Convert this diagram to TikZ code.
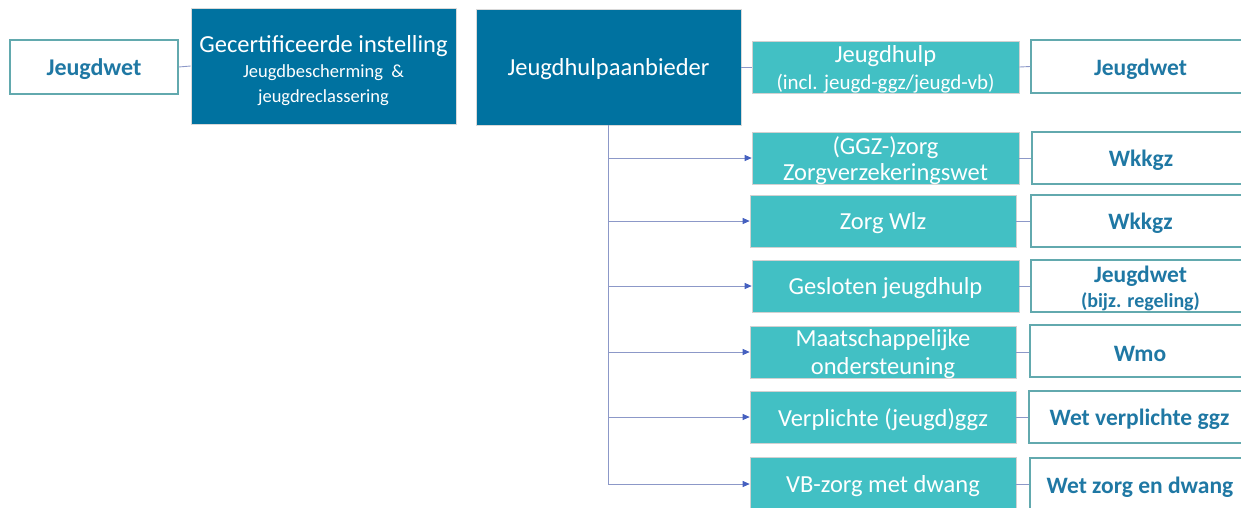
\documentclass[tikz,border=0pt]{standalone}
\usepackage{fontspec}
\setmainfont{Carlito}
\usetikzlibrary{arrows.meta}
\definecolor{darkb}{HTML}{0072A0}
\definecolor{tealb}{HTML}{42C0C4}
\definecolor{wtext}{HTML}{1F78A4}
\definecolor{wborder}{HTML}{62A9AE}
\definecolor{linec}{HTML}{8C98C8}
\definecolor{tipc}{HTML}{4560C0}
\tikzset{
  box/.style={rectangle, inner sep=0pt},
  darkbox/.style={box, fill=darkb, draw=black!15, line width=0.6pt},
  darktxt/.style={align=center, inner sep=0pt, text=white, font=\fontsize{24.5}{26}\selectfont},
  tealbox/.style={box, fill=tealb, draw=black!18, line width=0.6pt},
  tealtxt/.style={align=center, inner sep=0pt, text=white, font=\fontsize{24.5}{25}\selectfont},
  lawbox/.style={box, fill=white, draw=wborder, line width=1.4pt},
  lawtxt/.style={align=center, inner sep=0pt, text=wtext, font=\fontsize{23.5}{25}\selectfont\bfseries},
  conn/.style={draw=linec, line width=0.9pt},
  arr/.style={conn, -{Triangle[length=7pt,width=6pt,color=tipc]}},
}
% [text shift down], name, kind, x1, y1, x2, y2, text
\newcommand{\boxat}[8][2.5pt]{%
  \node[#3box, minimum width={#6-#4}, minimum height={#7-#5}] (#2) at ({(#4+#6)/2},{(#5+#7)/2}) {};
  \node[#3txt] (#2-t) at ([yshift=-#1]#2.center) {#8};}
\begin{document}
\begin{tikzpicture}[x=1pt,y=-1pt]
\useasboundingbox (0,0) rectangle (1241,507);
\clip (0,0) rectangle (1241,507);
% top row
\boxat{lj}{law}{10}{40}{178}{94}{\fontsize{24}{25}\selectfont Jeugdwet}
\boxat[5pt]{gc}{dark}{191}{8}{456}{124}{Gecertificeerde instelling\\[-1pt]{\fontsize{18.5}{20}\selectfont Jeugdbescherming \ \&}\\[-1pt]{\fontsize{18.5}{20}\selectfont jeugdreclassering}}
\boxat{jh}{dark}{476}{9}{741}{125}{Jeugdhulpaanbieder}
\boxat{t1}{teal}{752}{41}{1019}{93}{Jeugdhulp\\[2pt]{\fontsize{21}{22}\selectfont (incl. jeugd-ggz/jeugd-vb)}}
\boxat{w1}{law}{1031}{40}{1250}{93}{Jeugdwet}
% rows
\boxat{t2}{teal}{752}{132}{1019}{184}{(GGZ-)zorg\\[1pt]Zorgverzekeringswet}
\boxat{w2}{law}{1032}{132}{1250}{184}{Wkkgz}
\boxat{t3}{teal}{750}{195}{1016}{247}{Zorg Wlz}
\boxat{w3}{law}{1031}{195}{1250}{247}{Wkkgz}
\boxat{t4}{teal}{752}{260}{1019}{312}{Gesloten jeugdhulp}
\boxat{w4}{law}{1031}{260}{1250}{312}{Jeugdwet\\[0pt]{\fontsize{20}{21}\selectfont (bijz. regeling)}}
\boxat{t5}{teal}{750}{326}{1016}{378}{Maatschappelijke\\[3pt]ondersteuning}
\boxat{w5}{law}{1030}{325}{1250}{377}{Wmo}
\boxat{t6}{teal}{750}{391}{1016}{443}{Verplichte (jeugd)ggz}
\boxat{w6}{law}{1029}{391}{1250}{443}{Wet verplichte ggz}
\boxat{t7}{teal}{750}{457}{1016}{511}{VB-zorg met dwang}
\boxat{w7}{law}{1030}{458}{1250}{511}{Wet zorg en dwang}
% connectors
\draw[conn] (lj.east) -- (gc.west);
\draw[conn] (jh.east) -- (t1.west);
\draw[conn] (t1.east) -- (w1.west);
\foreach \i in {2,...,7} {
  \draw[conn] (t\i.east) -- (w\i.west |- t\i.east);
  \draw[arr] (jh.south) |- (t\i.west);
}
\end{tikzpicture}
\end{document}
